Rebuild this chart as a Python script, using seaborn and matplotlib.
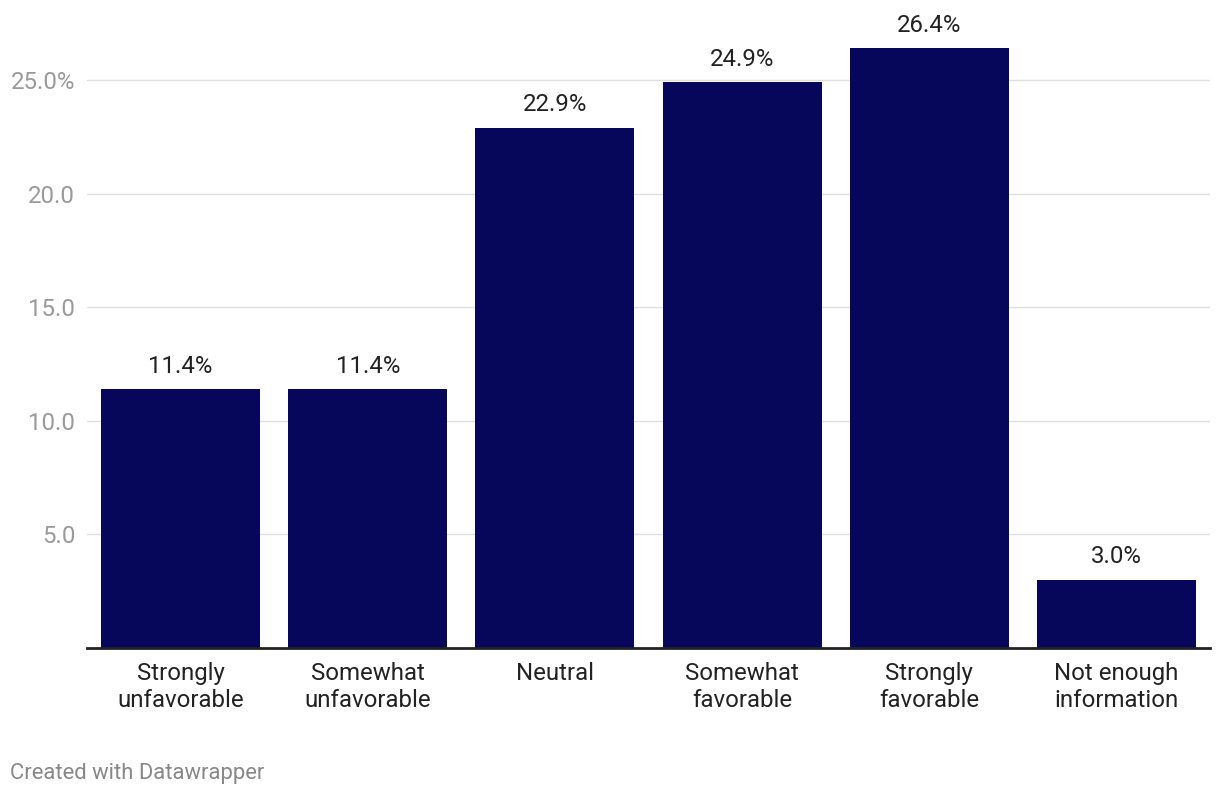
import pandas as pd
import matplotlib.pyplot as plt
import seaborn as sns

# Dados do gráfico
categories = ["Strongly\nunfavorable", "Somewhat\nunfavorable", "Neutral",
              "Somewhat\nfavorable", "Strongly\nfavorable", "Not enough\ninformation"]
values = [11.4, 11.4, 22.9, 24.9, 26.4, 3.0]
ytick_values = [5, 10, 15, 20, 25]
ytick_labels = ["5.0", "10.0", "15.0", "20.0", "25.0%"]

df = pd.DataFrame({"category": categories, "value": values})

sns.set_theme(style="white")
plt.rcParams["font.family"] = ["Roboto", "DejaVu Sans"]

fig = plt.figure(figsize=(12.2, 7.96), dpi=100)
ax = fig.add_axes([0.0713, 0.1859, 0.9205, 0.785])

sns.barplot(data=df, x="category", y="value", color="#06065b", width=0.85,
            saturation=1, linewidth=0, ax=ax)

ax.set_ylim(0, 27.5)
ax.set_xlim(-0.5, 5.5)
ax.set_yticks(ytick_values)
ax.set_yticklabels(ytick_labels)
ax.yaxis.grid(True, color="#e0e0e0", linewidth=1)
ax.set_axisbelow(True)
ax.set_xlabel("")
ax.set_ylabel("")

for side in ["top", "right", "left"]:
    ax.spines[side].set_visible(False)
ax.spines["bottom"].set_color("#222222")
ax.spines["bottom"].set_linewidth(2)

ax.tick_params(axis="y", length=0, pad=8.5, labelsize=17.3, labelcolor="#9a9a9a")
ax.tick_params(axis="x", length=0, pad=10, labelsize=17.3, labelcolor="#222222")
for lbl in ax.get_xticklabels():
    lbl.set_linespacing(1.2)

# Rótulos de valor acima das barras
for i, v in enumerate(values):
    ax.annotate(f"{v:.1f}%", xy=(i, v), xytext=(0, 16.5), textcoords="offset points",
                ha="center", va="center", fontsize=17.3, color="#222222")

fig.text(10 / 1220, 1 - 774 / 796, "Created with Datawrapper", ha="left", va="center",
         fontsize=15.8, color="#888888")

fig.savefig("out.png", dpi=100)
